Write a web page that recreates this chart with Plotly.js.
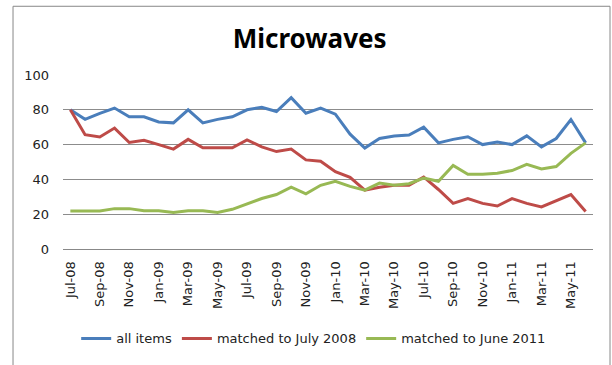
<!DOCTYPE html>
<html>
<head>
<meta charset="utf-8">
<script src="https://cdn.plot.ly/plotly-3.0.1.min.js"></script>
<style>
html,body{margin:0;padding:0;background:#fff;}
#chart{width:612px;height:365px;}
</style>
</head>
<body>
<div id="chart"></div>
<script>
var months = ["Jul-08","Aug-08","Sep-08","Oct-08","Nov-08","Dec-08",
  "Jan-09","Feb-09","Mar-09","Apr-09","May-09","Jun-09",
  "Jul-09","Aug-09","Sep-09","Oct-09","Nov-09","Dec-09",
  "Jan-10","Feb-10","Mar-10","Apr-10","May-10","Jun-10",
  "Jul-10","Aug-10","Sep-10","Oct-10","Nov-10","Dec-10",
  "Jan-11","Feb-11","Mar-11","Apr-11","May-11","Jun-11"];

var allItems = [80,74.5,78,81,76,76,73,72.5,80,72.5,74.5,76,
  80,81.5,79,87,78,81,77.5,66,58,63.5,65,65.5,
  70,61,63,64.5,60,61.5,60,65,58.7,63.5,74.4,61];

var matchedJuly2008 = [80,65.7,64.4,69.5,61.2,62.5,60,57.4,63,58.2,58.2,58.2,
  62.7,58.7,56,57.4,51.2,50.4,44.4,41.2,33.8,35.5,36.6,36.6,
  41.4,34.2,26.2,29,26.2,24.7,29,26.2,24.2,27.6,31.3,21.5];

var matchedJune2011 = [21.9,21.9,21.9,23.2,23.2,22,22,21,22,22,21,22.8,
  26,29,31.3,35.5,31.7,36.6,38.9,36,33.8,37.9,36.6,37.5,
  40.8,38.9,48,43,43,43.6,45.1,48.7,46,47.4,55,61];

var tickLabels = ["Jul-08","Sep-08","Nov-08","Jan-09","Mar-09","May-09",
  "Jul-09","Sep-09","Nov-09","Jan-10","Mar-10","May-10",
  "Jul-10","Sep-10","Nov-10","Jan-11","Mar-11","May-11"];

var yTicks = [0,20,40,60,80,100];

var FONT = "'DejaVu Sans', Verdana, sans-serif";
var TITLEFONT = "'Noto Sans', 'Open Sans', sans-serif";

var traces = [
  {x: months, y: allItems, name: "all items", type: "scatter", mode: "lines",
   line: {color: "#4A7EBB", width: 3}},
  {x: months, y: matchedJuly2008, name: "matched to July 2008", type: "scatter", mode: "lines",
   line: {color: "#BE4B48", width: 3}},
  {x: months, y: matchedJune2011, name: "matched to June 2011", type: "scatter", mode: "lines",
   line: {color: "#98B954", width: 3}}
];

var layout = {
  width: 612, height: 365,
  margin: {l: 63, r: 19, t: 75, b: 113},
  paper_bgcolor: "#fff", plot_bgcolor: "#fff",
  font: {family: FONT, size: 13, color: "#222"},
  showlegend: true,
  title: {text: "<b>Microwaves</b>", font: {family: TITLEFONT, size: 26, color: "#000"},
          x: 0.506, xanchor: "center", y: 0.893, yanchor: "middle", xref: "container", yref: "container"},
  xaxis: {
    type: "category",
    categoryarray: months,
    tickmode: "array",
    tickvals: tickLabels,
    ticktext: tickLabels,
    tickangle: -90,
    showgrid: false,
    showline: true, linecolor: "#888", linewidth: 1,
    ticks: "", ticklabelstandoff: 6,
    tickfont: {family: FONT, size: 13, color: "#222"},
    range: [-0.5, 35.5],
    fixedrange: true
  },
  yaxis: {
    range: [0, 100],
    tickmode: "array",
    tickvals: yTicks,
    ticktext: yTicks.map(String),
    showgrid: true, gridcolor: "#8c8c8c", gridwidth: 1,
    zeroline: false, showline: false,
    ticks: "", ticklabelstandoff: 13,
    tickfont: {family: FONT, size: 13, color: "#222"},
    fixedrange: true
  },
  legend: {
    orientation: "h",
    x: 0.473, xanchor: "center",
    y: -0.514, yanchor: "middle",
    font: {family: FONT, size: 13, color: "#222"},
    itemwidth: 30,
    tracegroupgap: 0,
    bgcolor: "rgba(0,0,0,0)"
  },
  shapes: [
    {type: "rect", xref: "paper", yref: "paper",
     x0: -0.0943, x1: 1.0321, y0: -0.70, y1: 1.395,
     line: {color: "#888", width: 1}, fillcolor: "rgba(0,0,0,0)", layer: "below"}
  ]
};

Plotly.newPlot("chart", traces, layout, {staticPlot: true, displayModeBar: false});
</script>
</body>
</html>
